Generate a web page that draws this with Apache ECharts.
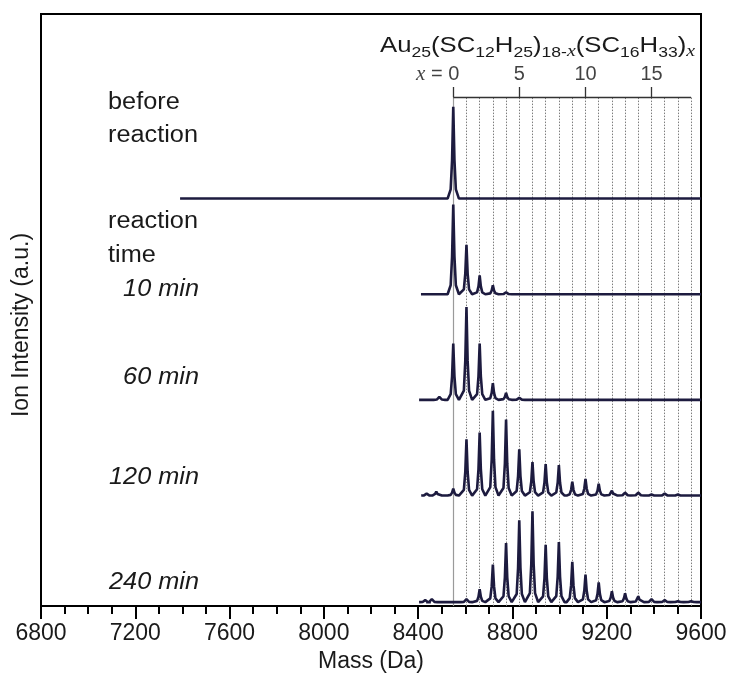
<!DOCTYPE html>
<html><head><meta charset="utf-8">
<script src="https://cdn.jsdelivr.net/npm/echarts@6/dist/echarts.min.js"></script>
<style>html,body{margin:0;padding:0;background:#fff}#c{width:732px;height:678px}</style>
</head><body><div id="c"></div>
<script>
// ---- data ----
const massTicks = [6800, 7200, 7600, 8000, 8400, 8800, 9200, 9600];
const ligandX = [0,1,2,3,4,5,6,7,8,9,10,11,12,13,14,15,16,17,18];
const peakMass = [8549, 8605, 8661, 8717, 8773, 8829, 8885, 8941, 8997, 9054, 9110, 9166, 9222, 9278, 9334, 9390, 9446, 9502, 9558];
const labelledX = [0, 5, 10, 15];
const spectrumLabels = ['before reaction', '10 min', '60 min', '120 min', '240 min'];
const beforeReaction = [93,0,0,0,0,0,0,0,0,0,0,0,0,0,0,0,0,0,0];
const time10min  = [91,50,19,9,2,0,0,0,0,0,0,0,0,0,0,0,0,0,0];
const time60min  = [57,94,57,17,7,2,0,0,0,0,0,0,0,0,0,0,0,0,0];
const time120min = [7,57,64,86,77,47,34,32,31,14,17,12,5,3,3,1,2,1,0];
const time240min = [0,3,13,38,60,83,92,58,61,41,28,20,11,9,6,3,2,1,1];
const scanStart = [7390, 8412, 8404, 8413, 8404];
const minorBumpMass = [[], [], [8490], [8436, 8477], [8430, 8458]];
const minorBumpHeight = [[], [], [3], [2, 4], [2, 3]];

// ---- layout / style (not data) ----
const stackOffset = [413, 316, 209, 112, 4];
const bracketLevel = 516, bracketTick = 10, xLabelLevel = 539;
const peakShape = [[-24,0],[-11,0.1],[-5,0.42],[0,1],[5,0.42],[11,0.1],[24,0]];
const INK = '#1d1b3f';
const FONT = 'Liberation Sans, Arial, Helvetica, sans-serif';
const SERIF = 'Liberation Serif, Times New Roman, serif';

const allSpectra = [beforeReaction, time10min, time60min, time120min, time240min];

function buildSpectrum(idx) {
  const h = allSpectra[idx], off = stackOffset[idx];
  const peaks = [];
  h.forEach((v, k) => { if (v > 0) peaks.push([peakMass[k], v]); });
  minorBumpMass[idx].forEach((m, j) => peaks.push([m, minorBumpHeight[idx][j]]));
  peaks.sort((a, b) => a[0] - b[0]);
  const pts = [[scanStart[idx], off]];
  peaks.forEach(([m, v]) => peakShape.forEach(([dm, f]) => pts.push([m + dm, off + f * v])));
  pts.push([massTicks[massTicks.length - 1], off]);
  return pts;
}

const guideData = ligandX.map(k => ({
  coords: [[peakMass[k], 0], [peakMass[k], bracketLevel]],
  lineStyle: k === 0 ? {type: 'solid', color: '#9a9a9a', width: 1.2}
                     : {type: [1.5, 1.5], color: '#7d7d7d', width: 1}
}));
const bracketData = [{coords: [[peakMass[0], bracketLevel], [peakMass[18], bracketLevel]]}]
  .concat(labelledX.map(k => ({coords: [[peakMass[k], bracketLevel], [peakMass[k], bracketLevel + bracketTick]]})));

const chart = echarts.init(document.getElementById('c'));
const series = [
  {type: 'lines', coordinateSystem: 'cartesian2d', polyline: false, silent: true, z: 1,
   data: guideData, lineStyle: {opacity: 1}},
  {type: 'lines', coordinateSystem: 'cartesian2d', polyline: false, silent: true, z: 2,
   data: bracketData, lineStyle: {color: '#333', width: 1.3, opacity: 1}},
  {type: 'scatter', symbolSize: 0, silent: true, z: 4,
   data: labelledX.map(k => ({value: [peakMass[k], xLabelLevel], ix: k})),
   label: {show: true, position: 'inside', color: '#111', fontFamily: FONT, fontSize: 20,
     formatter: p => p.data.ix === 0 ? '{i|x} = 0' : String(p.data.ix),
     rich: {i: {fontFamily: SERIF, fontStyle: 'italic', fontSize: 21, color: '#111'}}},
   labelLayout: p => p.dataIndex === 0 ? {align: 'right', dx: 6} : {}}
];
spectrumLabels.forEach((name, i) => series.push({
  type: 'line', name: name, data: buildSpectrum(i), showSymbol: false, symbol: 'none',
  lineStyle: {color: INK, width: 2.6}, z: 3, animation: false
}));

const textStyleBase = {fill: '#1a1a1a', fontFamily: FONT, fontSize: 23};
function label(txt, x, y, right, italic) {
  return {type: 'text', x: x, y: y, scaleX: 1.1, z: 10,
    style: Object.assign({}, textStyleBase, {text: txt, x: 0, y: 0,
      align: right ? 'right' : 'left', textAlign: right ? 'right' : 'left',
      verticalAlign: 'middle', textVerticalAlign: 'middle',
      fontStyle: italic ? 'italic' : 'normal'})};
}

chart.setOption({
  animation: false,
  backgroundColor: '#fff',
  grid: {left: 41, right: 31, top: 14, bottom: 64, show: true, borderColor: '#000', borderWidth: 2},
  xAxis: {type: 'value', min: massTicks[0], max: massTicks[massTicks.length - 1], interval: 400,
    name: 'Mass (Da)', nameLocation: 'middle', nameGap: 37,
    nameTextStyle: {fontFamily: FONT, fontSize: 23, color: '#1a1a1a'},
    axisLine: {lineStyle: {color: '#000', width: 2}},
    axisTick: {show: true, inside: false, length: 13, lineStyle: {color: '#000', width: 2}},
    minorTick: {show: true, splitNumber: 4, length: 8, lineStyle: {color: '#000', width: 2}},
    splitLine: {show: false}, minorSplitLine: {show: false},
    axisLabel: {margin: 16, fontFamily: FONT, fontSize: 23, color: '#1a1a1a', formatter: v => String(v)}},
  yAxis: {type: 'value', min: 0, max: 600,
    axisLine: {show: true, lineStyle: {color: '#000', width: 2}},
    axisTick: {show: false}, axisLabel: {show: false}, splitLine: {show: false}},
  graphic: [
    {type: 'text', x: 22, y: 325, rotation: Math.PI / 2, z: 10,
     style: {x: 0, y: 0, text: 'Ion Intensity (a.u.)', fill: '#1a1a1a', fontFamily: FONT, fontSize: 23,
       align: 'center', textAlign: 'center', verticalAlign: 'middle', textVerticalAlign: 'middle'}},
    {type: 'text', x: 380, y: 46, scaleX: 1.17, z: 10,
     style: {x: 0, y: 0, text: 'Au{s|25}(SC{s|12}H{s|25}){s|18-}{sx|x}(SC{s|16}H{s|33}){sx|x}',
       fill: '#1a1a1a', fontFamily: FONT, fontSize: 22, lineHeight: 28,
       align: 'left', textAlign: 'left', verticalAlign: 'middle', textVerticalAlign: 'middle',
       rich: {
         s: {fontFamily: FONT, fontSize: 15, lineHeight: 14, verticalAlign: 'bottom', fill: '#1a1a1a'},
         sx: {fontFamily: SERIF, fontStyle: 'italic', fontSize: 17, lineHeight: 14, verticalAlign: 'bottom', fill: '#1a1a1a'}
       }}},
    label('before', 108, 103),
    label('reaction', 108, 136),
    label('reaction', 108, 222),
    label('time', 108, 256),
    label('10 min', 199, 290, true, true),
    label('60 min', 199, 378, true, true),
    label('120 min', 199, 478, true, true),
    label('240 min', 199, 583, true, true)
  ],
  series: series
});
</script></body></html>
